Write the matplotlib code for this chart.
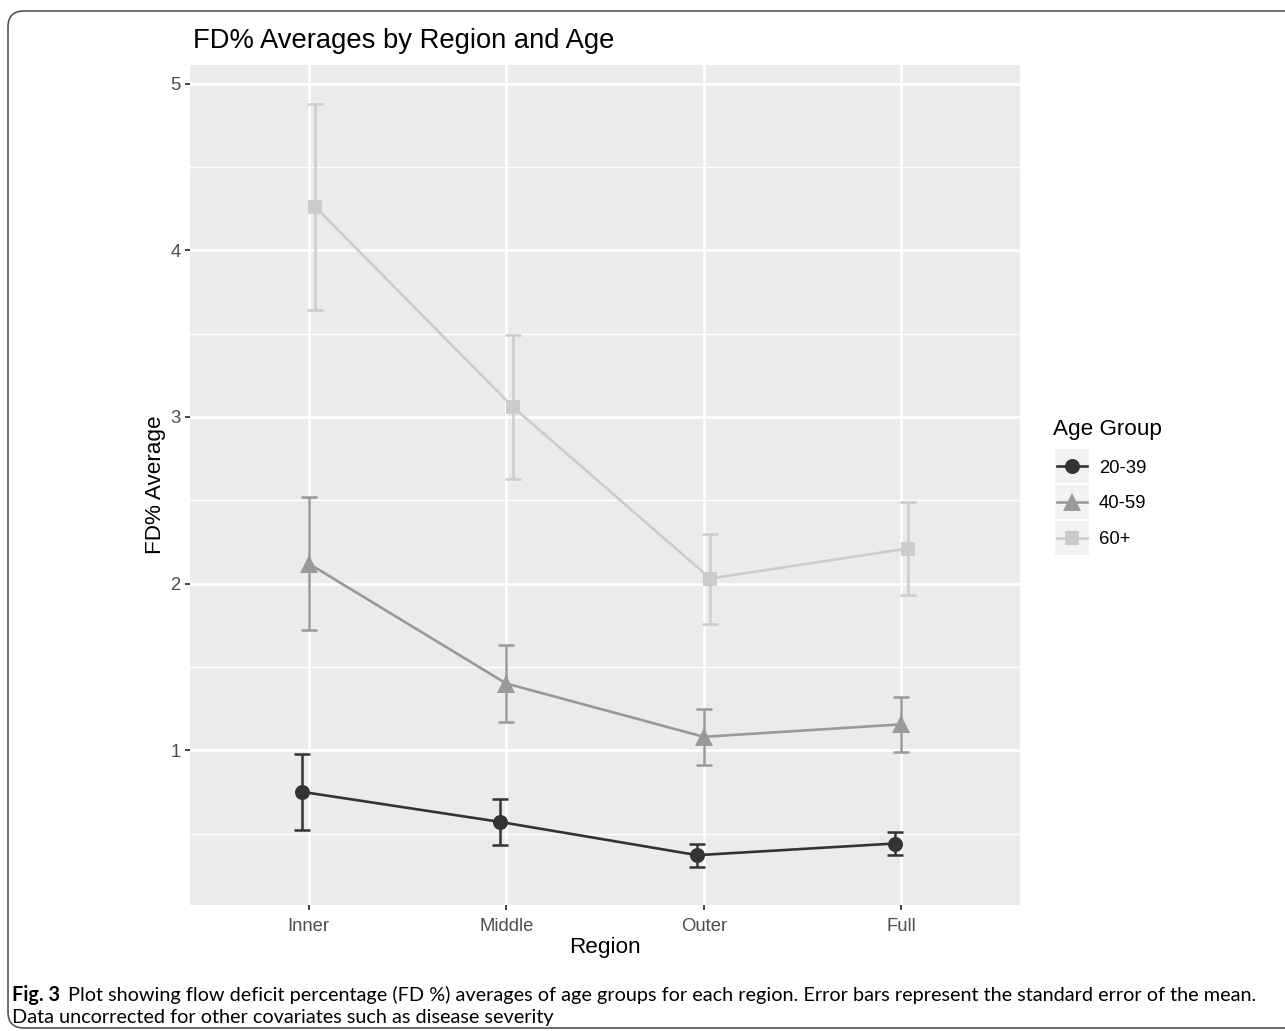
import matplotlib
matplotlib.use("Agg")
import matplotlib.pyplot as plt
import numpy as np
from matplotlib.lines import Line2D
from matplotlib.patches import Rectangle, FancyBboxPatch
from matplotlib.transforms import IdentityTransform

# values
regions = ["Inner", "Middle", "Outer", "Full"]
groups = ["20-39", "40-59", "60+"]
mean_20_39 = [0.75, 0.57, 0.37, 0.44]
se_20_39 = [0.23, 0.14, 0.07, 0.07]
mean_40_59 = [2.12, 1.40, 1.08, 1.155]
se_40_59 = [0.40, 0.23, 0.17, 0.165]
mean_60 = [4.26, 3.06, 2.03, 2.21]
se_60 = [0.62, 0.43, 0.27, 0.28]

COLORS = ["#333333", "#999999", "#CCCCCC"]
MARKERS = ["o", "^", "s"]
MSIZE = [10.8, 12.5, 10]

plt.rcParams["font.family"] = ["Liberation Sans", "DejaVu Sans"]

W, H = 1285, 1031
fig = plt.figure(figsize=(W / 100, H / 100), dpi=100)
ax = fig.add_axes([190 / W, 1 - 905 / H, 830 / W, 840 / H])
ax.set_facecolor("#EBEBEB")
for s in ax.spines.values():
    s.set_visible(False)

x = np.arange(1, len(regions) + 1)
dodge = 0.1 / 3
means = [mean_20_39, mean_40_59, mean_60]
ses = [se_20_39, se_40_59, se_60]
for i, (m, e) in enumerate(zip(means, ses)):
    xi = x + (i - 1) * dodge
    ax.errorbar(xi, m, yerr=e, fmt="none", ecolor=COLORS[i], elinewidth=1.8,
                capsize=5.8, capthick=1.8, zorder=3 + i)
    ax.plot(xi, m, color=COLORS[i], lw=1.9, marker=MARKERS[i], ms=MSIZE[i],
            mew=0, zorder=3 + i)

ax.set_xlim(0.4, 4.6)
ax.set_ylim(0.071, 5.111)
ax.set_xticks(x)
ax.set_xticklabels(regions)
ax.set_yticks([1, 2, 3, 4, 5])
ax.set_yticks(np.arange(0.5, 5.0, 1.0), minor=True)
ax.set_axisbelow(True)
ax.grid(which="major", color="white", lw=1.9)
ax.grid(which="minor", axis="y", color="white", lw=0.95)
ax.tick_params(which="major", length=3.6, width=1.3, color="#333333",
               labelcolor="#4D4D4D", labelsize=13.3)
ax.tick_params(axis="x", pad=5.5)
ax.tick_params(axis="y", pad=3.2)
ax.tick_params(which="minor", length=0)

fig.text(193 / W, 1 - 48 / H, "FD% Averages by Region and Age", fontsize=19.7,
         ha="left", va="baseline")
fig.text(155 / W, 1 - 485 / H, "FD% Average", fontsize=16.2, rotation=90,
         ha="center", va="center")
fig.text(605 / W, 1 - 948 / H, "Region", fontsize=16.2, ha="center", va="center")

# legend, laid out like the ggplot guide
fig.text(1053 / W, 1 - 435 / H, "Age Group", fontsize=16.2, ha="left", va="baseline")
key = 34
for i, g in enumerate(groups):
    top = 449 + 36 * i
    cy = 1 - (top + key / 2) / H
    fig.add_artist(Rectangle((1055 / W, 1 - (top + key) / H), key / W, key / H,
                             transform=fig.transFigure, fc="#F2F2F2", ec="none"))
    fig.add_artist(Line2D([1057 / W, 1087 / W], [cy, cy], transform=fig.transFigure,
                          color=COLORS[i], lw=1.9))
    fig.add_artist(Line2D([1072 / W], [cy], transform=fig.transFigure, color=COLORS[i],
                          marker=MARKERS[i], ms=MSIZE[i], mew=0, ls="none"))
    fig.text(1099 / W, cy, g, fontsize=13.3, ha="left", va="center_baseline")

# caption and rounded frame
frame = FancyBboxPatch((8, 3), 1320, H - 14, boxstyle="round,pad=0,rounding_size=16",
                       transform=IdentityTransform(), fc="none", ec="#555555", lw=1.2)
fig.add_artist(frame)

cap_font = "Lato"
cap_size = 14.3
t1 = fig.text(12 / W, 1 - 995 / H, "Fig. 3", family=cap_font, fontweight="bold",
              fontsize=cap_size, va="center", ha="left")
fig.canvas.draw()
bb = t1.get_window_extent()
fig.text((bb.x1 + 8) / W, 1 - 995 / H,
         "Plot showing flow deficit percentage (FD %) averages of age groups for each region. "
         "Error bars represent the standard error of the mean.",
         family=cap_font, fontsize=cap_size, va="center", ha="left")
fig.text(12 / W, 1 - 1018 / H, "Data uncorrected for other covariates such as disease severity",
         family=cap_font, fontsize=cap_size, va="center", ha="left")

fig.savefig("out.png", dpi=100)
